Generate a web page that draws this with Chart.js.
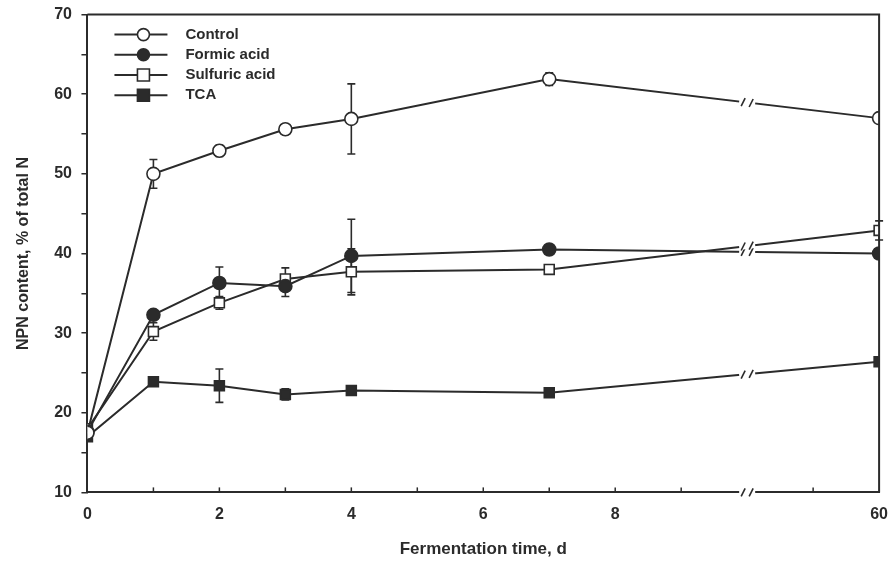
<!DOCTYPE html>
<html>
<head>
<meta charset="utf-8">
<script src="https://cdn.jsdelivr.net/npm/chart.js@4.4.1/dist/chart.umd.min.js"></script>
<style>
  html, body { margin: 0; padding: 0; background: #fff; overflow: hidden; }
  #wrap { width: 893px; height: 564px; }
</style>
</head>
<body>
<div id="wrap"><canvas id="chart-npn"></canvas></div>
<script>
// Dias de fermentacao (60 d fica depois da quebra do eixo)
var days = [0, 1, 2, 3, 4, 7, 60];
var seriesNames = ['Control', 'Formic acid', 'Sulfuric acid', 'TCA'];

var control  = [17.5, 50.0, 52.9, 55.6, 56.9, 61.9, 57.0];
var formic   = [17.6, 32.3, 36.3, 35.9, 39.7, 40.5, 40.0];
var sulfuric = [18.0, 30.2, 33.8, 36.8, 37.7, 38.0, 42.9];
var tca      = [17.0, 23.9, 23.4, 22.3, 22.8, 22.5, 26.4];

// desvio (barras de erro)
var controlSd  = [0, 1.8, 0.7, 0, 4.4, 0.8, 0];
var formicSd   = [0, 0.5, 2.0, 1.3, 4.6, 0, 0];
var sulfuricSd = [0, 1.1, 0.8, 1.4, 2.9, 0, 1.2];
var tcaSd      = [0, 0.5, 2.1, 0.7, 0.5, 0, 0];

var xTickLabels = { 0: '0', 2: '2', 4: '4', 6: '6', 8: '8', 12: '60' };
var yTicks = [10, 20, 30, 40, 50, 60, 70];

var ink = '#2b2b2b';
var breakAt = 10;

function axisPos(d) { return d > 10 ? 12 : d; }

function pts(vals) {
    return vals.map(function(v, i) { return { x: axisPos(days[i]), y: v }; });
}

var styles = [
    { pointStyle: 'circle', fill: '#fff' },
    { pointStyle: 'circle', fill: ink },
    { pointStyle: 'rect', fill: '#fff' },
    { pointStyle: 'rect', fill: ink }
];
var allVals = [control, formic, sulfuric, tca];
var allSd = [controlSd, formicSd, sulfuricSd, tcaSd];

var datasets = allVals.map(function(vals, i) {
    return {
        label: seriesNames[i],
        data: pts(vals),
        sd: allSd[i],
        borderColor: ink,
        borderWidth: 2,
        pointStyle: styles[i].pointStyle,
        pointRadius: styles[i].pointStyle === 'rect' ? 7 : 6.5,
        pointBackgroundColor: styles[i].fill,
        pointBorderColor: ink,
        pointBorderWidth: 1.6,
        tension: 0
    };
});

var errorBars = {
    id: 'errorBars',
    beforeDatasetsDraw: function(chart) {
        var ctx = chart.ctx, ys = chart.scales.y;
        ctx.save();
        ctx.strokeStyle = ink;
        ctx.lineWidth = 1.6;
        chart.data.datasets.forEach(function(ds, di) {
            var meta = chart.getDatasetMeta(di);
            ds.sd.forEach(function(sd, i) {
                if (!sd) return;
                var p = meta.data[i];
                var v = ds.data[i].y;
                var top = ys.getPixelForValue(v + sd), bot = ys.getPixelForValue(v - sd);
                ctx.beginPath();
                ctx.moveTo(p.x, top); ctx.lineTo(p.x, bot);
                ctx.moveTo(p.x - 4, top); ctx.lineTo(p.x + 4, top);
                ctx.moveTo(p.x - 4, bot); ctx.lineTo(p.x + 4, bot);
                ctx.stroke();
            });
        });
        ctx.restore();
    }
};

function drawBreak(ctx, x, y, slope) {
    // apaga um pedaco da linha e desenha "//"
    ctx.save();
    ctx.strokeStyle = '#fff';
    ctx.lineWidth = 6;
    ctx.beginPath();
    ctx.moveTo(x - 8, y - slope * 8);
    ctx.lineTo(x + 8, y + slope * 8);
    ctx.stroke();
    ctx.strokeStyle = ink;
    ctx.lineWidth = 1.6;
    [-4, 4].forEach(function(off) {
        var cy = y + slope * off;
        ctx.beginPath();
        ctx.moveTo(x + off - 2, cy + 4);
        ctx.lineTo(x + off + 2, cy - 4);
        ctx.stroke();
    });
    ctx.restore();
}

var axisBreaks = {
    id: 'axisBreaks',
    afterDatasetsDraw: function(chart) {
        var ctx = chart.ctx, xs = chart.scales.x, a = chart.chartArea;
        var bx = xs.getPixelForValue(breakAt);
        chart.data.datasets.forEach(function(ds, di) {
            var meta = chart.getDatasetMeta(di);
            var p0 = meta.data[5], p1 = meta.data[6];
            var slope = (p1.y - p0.y) / (p1.x - p0.x);
            drawBreak(ctx, bx, p0.y + slope * (bx - p0.x), slope);
        });
        drawBreak(ctx, bx, a.bottom, 0);
    }
};

var frame = {
    id: 'frame',
    afterDraw: function(chart) {
        var ctx = chart.ctx, a = chart.chartArea, xs = chart.scales.x;
        ctx.save();
        ctx.strokeStyle = ink;
        ctx.lineWidth = 2;
        ctx.beginPath();
        ctx.moveTo(a.left, a.top); ctx.lineTo(a.right, a.top); ctx.lineTo(a.right, a.bottom);
        ctx.stroke();
        // ticks do eixo x para dentro
        ctx.lineWidth = 1.5;
        [1, 2, 3, 4, 5, 6, 7, 8, 9, 11].forEach(function(v) {
            var x = xs.getPixelForValue(v);
            ctx.beginPath();
            ctx.moveTo(x, a.bottom); ctx.lineTo(x, a.bottom - 5);
            ctx.stroke();
        });
        // legenda
        ctx.font = 'bold 15px "Liberation Sans", Arial, sans-serif';
        ctx.textBaseline = 'middle';
        chart.data.datasets.forEach(function(ds, i) {
            var y = a.top + 20 + i * 20.2;
            var x0 = a.left + 27, x1 = a.left + 80, xm = a.left + 56;
            ctx.strokeStyle = ink;
            ctx.lineWidth = 2;
            ctx.beginPath(); ctx.moveTo(x0, y); ctx.lineTo(x1, y); ctx.stroke();
            ctx.fillStyle = ds.pointBackgroundColor;
            ctx.lineWidth = 1.6;
            ctx.beginPath();
            if (ds.pointStyle === 'rect') ctx.rect(xm - 6, y - 6, 12, 12);
            else ctx.arc(xm, y, 6, 0, Math.PI * 2);
            ctx.fill(); ctx.stroke();
            ctx.fillStyle = ink;
            ctx.fillText(ds.label, a.left + 98, y);
        });
        ctx.restore();
    }
};

var font = { family: '"Liberation Sans", Arial, sans-serif', weight: 'bold' };

new Chart(document.getElementById('chart-npn'), {
    type: 'line',
    data: { datasets: datasets },
    options: {
        responsive: true, maintainAspectRatio: false, animation: false,
        layout: { padding: { left: 10, top: 12, right: 0, bottom: 0 } },
        plugins: { legend: { display: false }, tooltip: { enabled: false } },
        scales: {
            x: {
                type: 'linear', min: 0, max: 12,
                border: { color: ink, width: 2 },
                grid: { display: false },
                ticks: {
                    stepSize: 1, autoSkip: false, maxRotation: 0, color: ink, padding: 5,
                    font: Object.assign({ size: 16 }, font),
                    callback: function(v) { return xTickLabels[v] || ''; }
                },
                title: { display: true, text: 'Fermentation time, d', color: ink, padding: { top: 10 },
                         font: Object.assign({ size: 17 }, font) }
            },
            y: {
                min: 10, max: 70,
                border: { color: ink, width: 2 },
                grid: { drawOnChartArea: false, tickLength: 6, color: ink, lineWidth: 1.5 },
                ticks: {
                    stepSize: 5, color: ink, padding: 5,
                    font: Object.assign({ size: 16 }, font),
                    // espaco no fim afasta o rotulo do tick
                    callback: function(v) { return yTicks.indexOf(v) >= 0 ? v + ' ' : ''; }
                },
                title: { display: true, text: 'NPN content, % of total N', color: ink, padding: { bottom: 16 },
                         font: Object.assign({ size: 16 }, font) }
            }
        }
    },
    plugins: [errorBars, axisBreaks, frame]
});
</script>
</body>
</html>
